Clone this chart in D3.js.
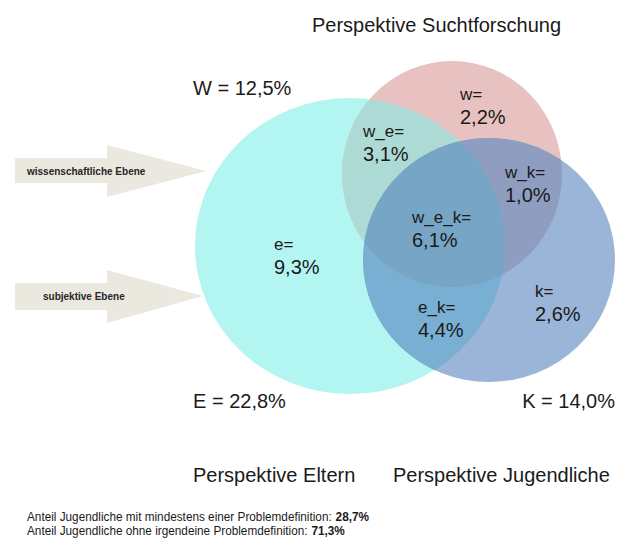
<!DOCTYPE html>
<html>
<head>
<meta charset="utf-8">
<script src="https://cdn.jsdelivr.net/npm/d3@7"></script>
<style>
  body { margin: 0; background: #fff; }
  svg { display: block; font-family: "Liberation Sans", Arial, sans-serif; }
</style>
</head>
<body>
<svg id="main_svg"></svg>
<script>
const WIDTH = 617;
const HEIGHT = 540;

// data
const setNames = ['W', 'E', 'K'];
const setTotals = [12.5, 22.8, 14.0];
const perspectives = ['Perspektive Suchtforschung', 'Perspektive Eltern', 'Perspektive Jugendliche'];
const regionKeys = ['w', 'e', 'k', 'w_e', 'w_k', 'e_k', 'w_e_k'];
const regionValues = [2.2, 9.3, 2.6, 3.1, 1.0, 4.4, 6.1];
const levelLabels = ['wissenschaftliche Ebene', 'subjektive Ebene'];
const summaryLabels = ['Anteil Jugendliche mit mindestens einer Problemdefinition:', 'Anteil Jugendliche ohne irgendeine Problemdefinition:'];
const summaryValues = [28.7, 71.3];

// layout
const circles = {
	W: {cx: 452, cy: 174, rx: 110, ry: 113, fill: '#e8c1c1'},
	E: {cx: 350, cy: 246, rx: 155, ry: 148, fill: '#b3f5f1'},
	K: {cx: 489, cy: 260, rx: 126, ry: 122, fill: '#9bb5d9'}
};
const overlapFill = {WE: '#aedad6', EK: '#79afd3', WK: '#8e9dc0', WEK: '#76a5c5'};
const regionPos = {
	w: [460, 100], e: [274, 250], k: [535, 297],
	w_e: [363, 137], w_k: [505, 178], e_k: [418, 313], w_e_k: [412, 223]
};
const totalPos = {W: [193, 95, 'start'], E: [193, 408, 'start'], K: [615, 408, 'end']};
const perspectivePos = [[312, 32], [193, 482], [393, 482]];
const arrows = [
	{x0: 15, x1: 107, x2: 206, yb0: 158, yb1: 183, yh0: 145, yh1: 197, ty: 171, label: [27, 175]},
	{x0: 15, x1: 107, x2: 203, yb0: 283, yb1: 310, yh0: 270, yh1: 323, ty: 296, label: [43, 300]}
];
const SUMMARY_WIDTH = 342; // width of the first summary line

const locale = d3.formatLocale({decimal: ',', thousands: '.', grouping: [3], currency: ['', '€']});
const fmt = v => locale.format('.1f')(v) + '%';

const svg = d3.select('#main_svg').attr('width', WIDTH).attr('height', HEIGHT);
const defs = svg.append('defs');

const ellipse = (sel, c) => sel
	.attr('cx', c.cx).attr('cy', c.cy).attr('rx', c.rx).attr('ry', c.ry);

// clip paths for each circle
setNames.forEach(n => {
	defs.append('clipPath').attr('id', `clip_${n}`)
		.append('ellipse').call(ellipse, circles[n]);
});

const venn = svg.append('g').attr('class', 'venn');

// base circles (E first, then W, then K)
['E', 'W', 'K'].forEach(n => {
	venn.append('ellipse').call(ellipse, circles[n]).attr('fill', circles[n].fill);
});

// pairwise overlaps, then triple overlap
const overlap = (a, b, fill, c) => {
	let g = venn.append('g').attr('clip-path', `url(#clip_${a})`);
	if (c) g = g.append('g').attr('clip-path', `url(#clip_${c})`);
	g.append('ellipse').call(ellipse, circles[b]).attr('fill', fill);
};
overlap('E', 'W', overlapFill.WE);
overlap('E', 'K', overlapFill.EK);
overlap('W', 'K', overlapFill.WK);
overlap('E', 'K', overlapFill.WEK, 'W');

// region labels
const regions = regionKeys.map((k, i) => ({key: k, value: regionValues[i], pos: regionPos[k]}));
const rl = svg.selectAll('.region_label').data(regions).enter()
	.append('g').attr('class', 'region_label')
	.attr('transform', d => `translate(${d.pos[0]},${d.pos[1]})`);
rl.append('text')
	.attr('font-size', '17px').attr('fill', '#1a1a1a')
	.text(d => d.key + '=');
rl.append('text')
	.attr('y', 24)
	.attr('font-size', '20px').attr('fill', '#1a1a1a')
	.text(d => fmt(d.value));

// set totals
svg.selectAll('.total').data(setNames).enter()
	.append('text').attr('class', 'total')
	.attr('x', d => totalPos[d][0]).attr('y', d => totalPos[d][1])
	.attr('text-anchor', d => totalPos[d][2])
	.attr('font-size', '20px').attr('fill', '#1a1a1a')
	.text((d, i) => `${d} = ${fmt(setTotals[i])}`);

// perspective titles
svg.selectAll('.persp').data(perspectives).enter()
	.append('text').attr('class', 'persp')
	.attr('x', (d, i) => perspectivePos[i][0]).attr('y', (d, i) => perspectivePos[i][1])
	.attr('font-size', '20px').attr('fill', '#1a1a1a')
	.text(d => d);

// arrows
const arrowPath = a => {
	const p = d3.path();
	p.moveTo(a.x0, a.yb0);
	p.lineTo(a.x1, a.yb0);
	p.lineTo(a.x1, a.yh0);
	p.lineTo(a.x2, a.ty);
	p.lineTo(a.x1, a.yh1);
	p.lineTo(a.x1, a.yb1);
	p.lineTo(a.x0, a.yb1);
	p.closePath();
	return p.toString();
};
const ag = svg.selectAll('.arrow').data(arrows).enter().append('g').attr('class', 'arrow');
ag.append('path').attr('d', arrowPath).attr('fill', '#ebe8df');
ag.append('text')
	.attr('x', d => d.label[0]).attr('y', d => d.label[1])
	.attr('font-size', '10px').attr('font-weight', 'bold').attr('fill', '#262626')
	.text((d, i) => levelLabels[i]);

// summary lines, squeezed horizontally like the narrow font of the original
const sg = svg.selectAll('.summary').data(summaryLabels).enter()
	.append('g').attr('class', 'summary');
const lbl = sg.append('text')
	.attr('font-size', '13px').attr('fill', '#1a1a1a')
	.text(d => d);
const val = sg.append('text')
	.attr('x', function() { return this.parentNode.firstChild.getComputedTextLength() + 4; })
	.attr('font-size', '13px').attr('font-weight', 'bold').attr('fill', '#1a1a1a')
	.text((d, i) => fmt(summaryValues[i]));
const firstW = lbl.nodes()[0].getComputedTextLength() + 4 + val.nodes()[0].getComputedTextLength();
const sx = SUMMARY_WIDTH / firstW;
sg.attr('transform', (d, i) => `translate(27,${521 + i * 14}) scale(${sx},1)`);
</script>
</body>
</html>
